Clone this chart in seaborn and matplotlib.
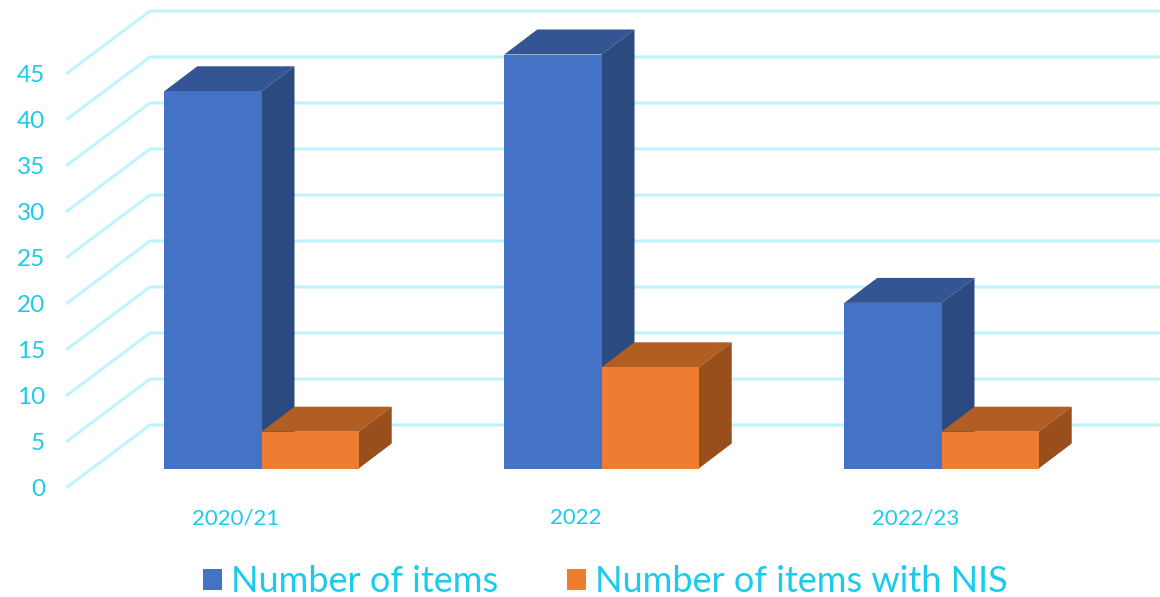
import matplotlib
matplotlib.use("Agg")
import matplotlib.pyplot as plt
from matplotlib.patches import Polygon
import pandas as pd
import seaborn as sns

periods = ["2020/21", "2022", "2022/23"]
series_names = ["Number of items", "Number of items with NIS"]
number_of_items = [41, 45, 18]
number_with_nis = [4, 11, 4]
value_ticks = [0, 5, 10, 15, 20, 25, 30, 35, 40, 45]

WIDTH, HEIGHT = 1160, 597
PX_PER_CATEGORY = 340.0
PX_PER_UNIT = 9.2
BASE_X, BASE_Y = 261.5, 468.5

FRONT_FILL = {series_names[0]: "#4472C4", series_names[1]: "#ED7D31"}
TOP_FILL = {"#4472C4": "#335594", "#ED7D31": "#B25D22"}
SIDE_FILL = {"#4472C4": "#2B4A7F", "#ED7D31": "#984F1B"}
TEXT_COLOR = "#1CCBEB"
GRID_COLOR = "#BFF4FE"


def x_span(px):
    return px / PX_PER_CATEGORY


def y_span(px):
    return px / PX_PER_UNIT


sns.set_theme(style="white")
plt.rcParams["font.family"] = ["Lato", "DejaVu Sans"]

frame = pd.DataFrame({
    "period": periods * 2,
    "series": [series_names[0]] * 3 + [series_names[1]] * 3,
    "value": number_of_items + number_with_nis,
})

fig = plt.figure(figsize=(WIDTH / 100, HEIGHT / 100), dpi=100)
ax = fig.add_axes([0, 0, 1, 1])

sns.barplot(
    data=frame, x="period", y="value", hue="series", order=periods,
    hue_order=series_names, palette=FRONT_FILL, width=0.572, saturation=1,
    errorbar=None, ax=ax, zorder=4, legend=False, linewidth=0, edgecolor="none",
)

ax.set_xlim(-BASE_X / PX_PER_CATEGORY, (WIDTH - BASE_X) / PX_PER_CATEGORY)
ax.set_ylim((BASE_Y - HEIGHT) / PX_PER_UNIT, BASE_Y / PX_PER_UNIT)
ax.axis("off")

# Wall and floor lines: a slanted run on the side wall, then across the back wall.
front_x = x_span(66 - BASE_X)
back_x = x_span(150 - BASE_X)
end_x = x_span(WIDTH - BASE_X)
for tick in value_ticks:
    front_y = tick - y_span(19.5)
    back_y = tick + y_span(43.5)
    ax.plot([front_x, back_x, end_x], [front_y, back_y, back_y],
            color=GRID_COLOR, lw=2.2, zorder=1, solid_joinstyle="miter",
            solid_capstyle="butt")
    ax.text(x_span(45 - BASE_X), front_y - y_span(1.5), str(tick), ha="right",
            va="center", color=TEXT_COLOR, fontsize=17.5)

# Extruded top and side faces for every bar.
depth_x, depth_y = x_span(33), y_span(25)
bars = sorted(ax.patches, key=lambda p: p.get_x())
for bar in bars:
    left, right = bar.get_x(), bar.get_x() + bar.get_width()
    top = bar.get_height()
    base = matplotlib.colors.to_hex(bar.get_facecolor()).upper()
    # Orange boxes sit in front of the blue side faces.
    layer = 5 if base == "#ED7D31" else 3
    bar.set_zorder(layer + 1)
    ax.add_patch(Polygon(
        [(left, top), (right, top), (right + depth_x, top + depth_y),
         (left + depth_x, top + depth_y)],
        closed=True, facecolor=TOP_FILL[base], edgecolor="none", zorder=layer))
    ax.add_patch(Polygon(
        [(right, 0), (right, top), (right + depth_x, top + depth_y),
         (right + depth_x, depth_y)],
        closed=True, facecolor=SIDE_FILL[base], edgecolor="none", zorder=layer))

# Period labels under the bars.
for index, period in enumerate(periods):
    ax.text(index + x_span(-26), y_span(-50), period, ha="center", va="center",
            color=TEXT_COLOR, fontsize=16)

# Legend along the bottom edge.
handles = [plt.Rectangle((0, 0), 1, 1, facecolor=FRONT_FILL[name], edgecolor="none")
           for name in series_names]
legend = ax.legend(
    handles, series_names, loc="center", bbox_to_anchor=(605.5 / WIDTH, 1 - 582 / HEIGHT),
    ncol=2, frameon=False, fontsize=26, labelcolor=TEXT_COLOR, handlelength=0.526,
    handleheight=0.526, handletextpad=0.25, columnspacing=1.91, borderpad=0,
)

fig.savefig("out.png", dpi=100, facecolor="white")
